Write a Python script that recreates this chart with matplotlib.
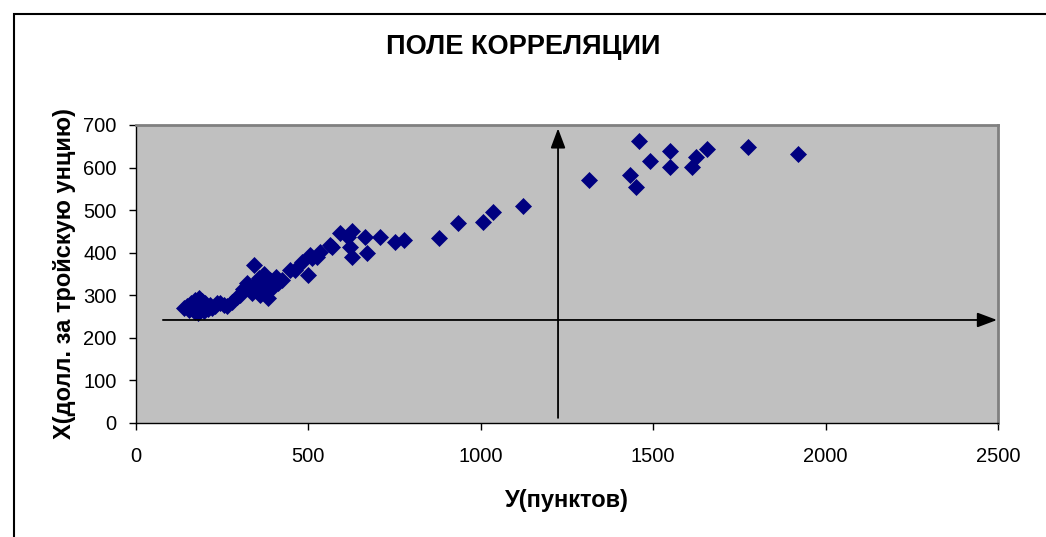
import matplotlib
matplotlib.use("Agg")
import matplotlib.pyplot as plt
from matplotlib.patches import Rectangle

plt.rcParams['font.family'] = ['Liberation Sans', 'DejaVu Sans']

# Stock index (points) vs gold price (USD per troy ounce)
index_pts = [
    139, 148, 155, 160, 165, 170, 172, 175, 178, 180, 182, 185, 188, 190,
    192, 195, 198, 200, 205, 210, 215, 220, 228, 235, 244, 255, 265, 278,
    293,
    302, 310, 322, 335, 340, 342, 348, 352, 358, 360, 366, 372, 378, 383,
    390, 397, 405, 412, 423,
    447, 461, 481, 499, 505, 510, 525, 534, 563, 568, 592, 615, 621, 626,
    626, 664, 670, 708, 751, 777,
    879, 934, 1006, 1035, 1122,
    1314, 1433, 1450, 1459, 1491, 1549, 1549, 1612, 1624, 1656, 1775, 1920,
]
gold_usd = [
    270, 275, 265, 282, 268, 260, 290, 272, 284, 258, 294, 276, 266, 287,
    279, 270, 262, 283, 272, 268, 278, 270, 276, 282, 282, 278, 276, 284,
    296,
    300, 315, 329, 305, 318, 371, 330, 310, 340, 300, 322, 350, 312, 294,
    335, 319, 342, 330, 336,
    359, 359, 378, 348, 395, 388, 390, 402, 418, 413, 446, 437, 413, 451,
    390, 437, 399, 437, 425, 430,
    435, 470, 472, 496, 510,
    571, 582, 554, 662, 615, 639, 601, 601, 625, 644, 648, 632,
]

x_ticks = [0, 500, 1000, 1500, 2000, 2500]
y_ticks = [0, 100, 200, 300, 400, 500, 600, 700]

# Reference axes drawn as arrows
h_arrow_y = 242
h_arrow_x = (78, 2497)
v_arrow_x = 1224
v_arrow_y = (12, 692)

W, H = 1046, 537
fig = plt.figure(figsize=(W / 100, H / 100), dpi=100)
fig.patch.set_facecolor('white')

# chart-area frame (left and top edges visible)
fig.patches.append(Rectangle((14 / W, -0.2), 1.5, 1.2 - 14 / H,
                             transform=fig.transFigure, fill=False,
                             edgecolor='black', linewidth=1.5))

ax = fig.add_axes([136 / W, 1 - 423 / H, (998 - 136) / W, (423 - 125) / H])
ax.set_facecolor('#C0C0C0')

ax.plot(index_pts, gold_usd, linestyle='none', marker='D', markersize=8.2,
        markerfacecolor='#000080', markeredgecolor='#000080',
        markeredgewidth=0.5, zorder=3)

arrow_style = '-|>,head_length=0.8,head_width=0.3'
ax.annotate('', xy=(h_arrow_x[1], h_arrow_y), xytext=(h_arrow_x[0], h_arrow_y),
            arrowprops=dict(arrowstyle=arrow_style, color='black', lw=1.3,
                            mutation_scale=15, shrinkA=0, shrinkB=0), zorder=4)
ax.annotate('', xy=(v_arrow_x, v_arrow_y[1]), xytext=(v_arrow_x, v_arrow_y[0]),
            arrowprops=dict(arrowstyle=arrow_style, color='black', lw=1.3,
                            mutation_scale=15, shrinkA=0, shrinkB=0), zorder=4)

ax.set_xlim(0, 2500)
ax.set_ylim(0, 700)
ax.set_xticks(x_ticks)
ax.set_yticks(y_ticks)
ax.tick_params(direction='out', length=5, width=1, colors='black',
               labelsize=14.5)
ax.tick_params(axis='x', pad=12)
ax.tick_params(axis='y', pad=9)

for side in ('top', 'right'):
    ax.spines[side].set_color('#808080')
    ax.spines[side].set_linewidth(2)
for side in ('left', 'bottom'):
    ax.spines[side].set_color('black')
    ax.spines[side].set_linewidth(1)

ax.set_xlabel('У(пунктов)', fontsize=17, fontweight='bold', labelpad=17)
ax.set_ylabel('Х(долл. за тройскую унцию)', fontsize=17, fontweight='bold',
              labelpad=5)
fig.text(0.5, 1 - 47 / H, 'ПОЛЕ КОРРЕЛЯЦИИ', ha='center', va='center',
         fontsize=19.5, fontweight='bold')

fig.savefig('out.png', dpi=100)
